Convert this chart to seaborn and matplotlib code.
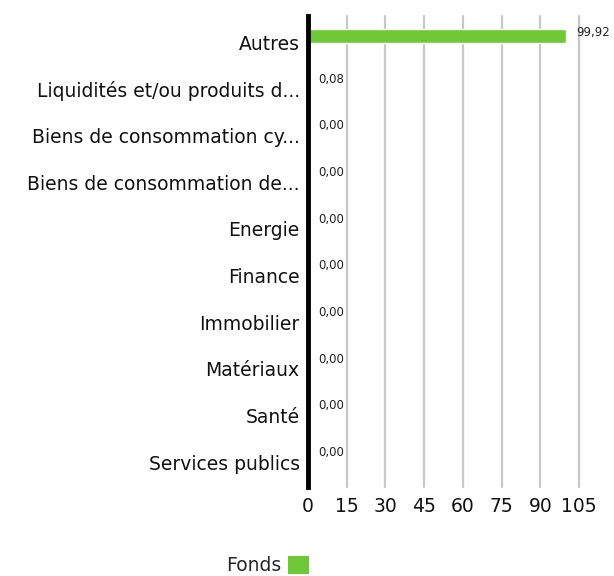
import matplotlib
matplotlib.use("Agg")
import matplotlib.pyplot as plt
import matplotlib.transforms as mtransforms
from matplotlib.patches import Patch
import pandas as pd
import seaborn as sns

categories = [
    "Autres",
    "Liquidités et/ou produits d...",
    "Biens de consommation cy...",
    "Biens de consommation de...",
    "Energie",
    "Finance",
    "Immobilier",
    "Matériaux",
    "Santé",
    "Services publics",
]
values = [99.92, 0.08, 0, 0, 0, 0, 0, 0, 0, 0]
value_labels = ["99,92", "0,08", "0,00", "0,00", "0,00", "0,00", "0,00", "0,00", "0,00", "0,00"]
x_ticks = [0, 15, 30, 45, 60, 75, 90, 105]
series_name = "Fonds"

GREEN = "#71c837"

sns.set_theme(style="white")
plt.rcParams["font.family"] = ["DejaVu Sans"]

df = pd.DataFrame({"categorie": categories, "valeur": values})

fig = plt.figure(figsize=(6.14, 5.76), dpi=100)
ax = fig.add_axes([0.5016, 0.1545, 0.4414, 0.8177])

sns.barplot(data=df, x="valeur", y="categorie", color=GREEN, width=0.3,
            saturation=1, ax=ax, zorder=3)

ax.set_xlim(0, 105)
ax.set_ylim(9.66, -0.43)
ax.set_xticks(x_ticks)
ax.set_xticklabels([str(t) for t in x_ticks], fontsize=13.5, color="#111111")
ax.set_xlabel("")
ax.set_ylabel("")
ax.tick_params(axis="y", labelsize=13.5, length=0, pad=6, labelcolor="#111111")
ax.tick_params(axis="x", length=0, pad=7)

# labels décalés vers le bas comme sur la référence
offset = mtransforms.ScaledTranslation(0, -6 / 100, fig.dpi_scale_trans)
for lab in ax.get_yticklabels():
    lab.set_transform(lab.get_transform() + offset)

ax.grid(axis="x", color="#c8c8c8", linewidth=1.6, zorder=0)
ax.grid(axis="y", visible=False)
for gl in ax.get_xgridlines():
    gl.set_clip_on(False)
for side in ["top", "right", "bottom"]:
    ax.spines[side].set_visible(False)
ax.spines["left"].set_color("black")
ax.spines["left"].set_linewidth(3.5)
ax.spines["left"].set_zorder(4)

px = 105 / 271
for i, (v, t) in enumerate(zip(values, value_labels)):
    ax.text(v + 10 * px, i - 0.08, t, fontsize=8.5, va="center", ha="left",
            color="#222222")

handle = Patch(facecolor=GREEN, edgecolor="none")
fig.legend([handle], [series_name], loc="center left",
           bbox_to_anchor=(0.34, 0.018), frameon=False, markerfirst=False,
           fontsize=13.5, handlelength=1.1, handleheight=1.1, handletextpad=0.4)

fig.savefig("out.png", dpi=100)
